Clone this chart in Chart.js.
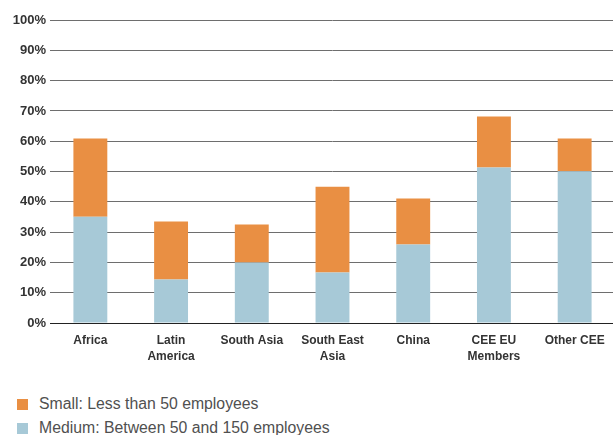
<!DOCTYPE html>
<html lang="en">
  <head>
    <meta charset="UTF-8" />
    <meta name="viewport" content="width=device-width, initial-scale=1.0" />
    <script src="https://cdn.jsdelivr.net/npm/chart.js@4/dist/chart.umd.min.js"></script>
    <title>Firm size by region</title>
    <style>
      html,
      body {
        margin: 0;
        padding: 0;
        background-color: #ffffff;
        overflow: hidden;
      }

      #wrap {
        position: relative;
        width: 615px;
        height: 375px;
      }

      canvas {
        display: block;
      }

      #legend {
        position: absolute;
        left: 17px;
        top: 396px;
        font-family: "Liberation Sans", Arial, sans-serif;
        font-size: 15.8px;
        color: #505050;
      }

      .item {
        height: 24px;
        line-height: 15px;
        white-space: nowrap;
      }

      .box {
        display: inline-block;
        width: 11px;
        height: 11px;
        margin-right: 11px;
        vertical-align: -1px;
      }
    </style>
  </head>
  <body>
    <div id="wrap"><canvas id="myChart" width="615" height="375"></canvas></div>
    <div id="legend"></div>
    <script>
      // values (% of firms)
      const categories = [
        "Africa",
        ["Latin", "America"],
        "South Asia",
        ["South East", "Asia"],
        "China",
        ["CEE EU", "Members"],
        "Other CEE",
      ];
      const mediumValues = [35.1, 14.4, 20.0, 16.7, 25.9, 51.3, 50.1];
      const smallValues = [25.8, 19.1, 12.5, 28.3, 15.2, 16.9, 10.8];
      const seriesNames = [
        "Small: Less than 50 employees",
        "Medium: Between 50 and 150 employees",
      ];
      const orange = "#e98f43";
      const blue = "#a7c9d7";

      const ctx = document.getElementById("myChart").getContext("2d");
      const myChart = new Chart(ctx, {
        type: "bar",
        data: {
          labels: categories,
          datasets: [
            {
              label: seriesNames[1],
              data: mediumValues,
              backgroundColor: blue,
              barPercentage: 0.42,
              categoryPercentage: 1,
            },
            {
              label: seriesNames[0],
              data: smallValues,
              backgroundColor: orange,
              barPercentage: 0.42,
              categoryPercentage: 1,
            },
          ],
        },
        options: {
          responsive: false,
          animation: false,
          layout: {
            padding: { top: 20, right: 0, bottom: 0, left: 0 },
          },
          plugins: {
            legend: { display: false },
            tooltip: { enabled: false },
          },
          scales: {
            x: {
              stacked: true,
              grid: { display: false, drawTicks: false },
              border: { display: true, color: "#222222", width: 1 },
              ticks: {
                color: "#333333",
                padding: 10,
                maxRotation: 0,
                autoSkip: false,
                font: {
                  family: "'Liberation Sans', Arial, sans-serif",
                  size: 12,
                  weight: "bold",
                  lineHeight: 1.33,
                },
              },
            },
            y: {
              stacked: true,
              min: 0,
              max: 100,
              afterFit: (scale) => {
                scale.width = 50;
              },
              grid: {
                color: (c) => (c.tick && c.tick.value === 0 ? "#222222" : "#6e6e6e"),
                lineWidth: 1,
                drawTicks: false,
              },
              border: { display: false },
              ticks: {
                stepSize: 10,
                padding: 4,
                color: "#333333",
                font: {
                  family: "'Liberation Sans', Arial, sans-serif",
                  size: 13,
                  weight: "bold",
                },
                callback: (v) => v + "%",
              },
            },
          },
        },
      });

      // legend below the chart, one entry per line
      const legend = document.getElementById("legend");
      [
        [seriesNames[0], orange],
        [seriesNames[1], blue],
      ].forEach(([name, color]) => {
        const row = document.createElement("div");
        row.className = "item";
        row.innerHTML =
          '<span class="box" style="background:' + color + '"></span>' + name;
        legend.appendChild(row);
      });
    </script>
  </body>
</html>
